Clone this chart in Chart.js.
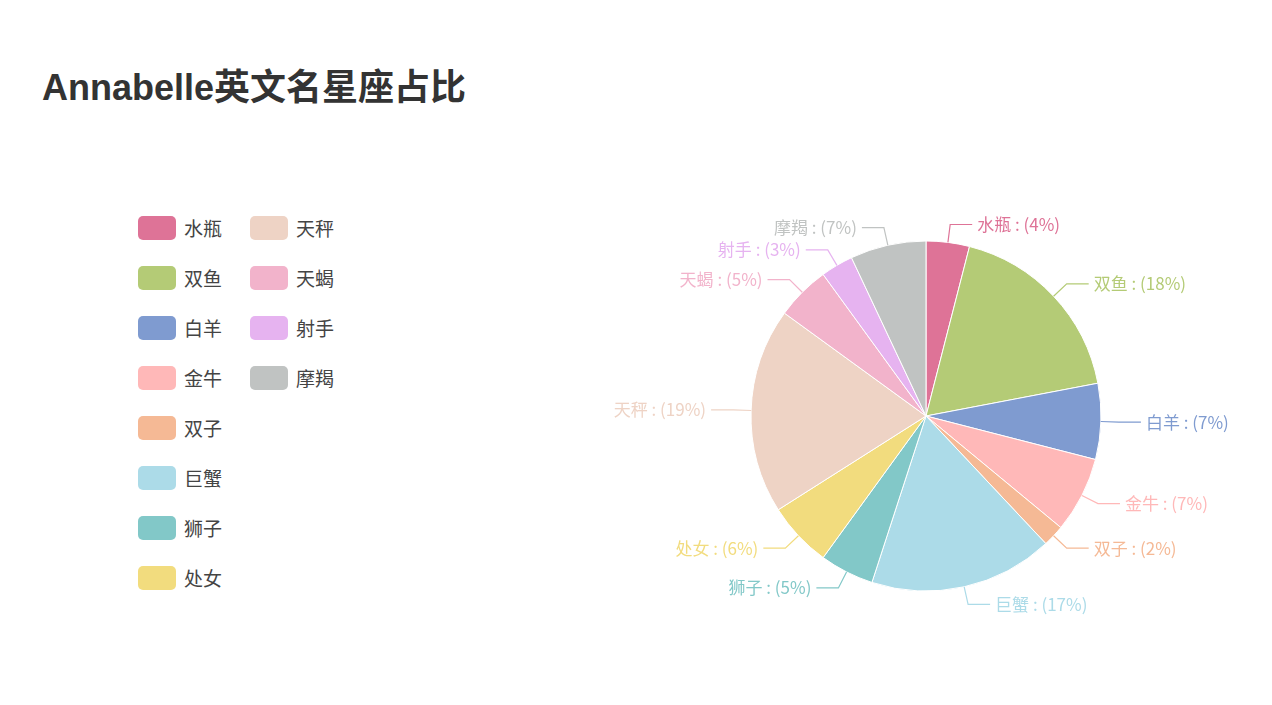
<!DOCTYPE html>
<html><head><meta charset="utf-8">
<script src="https://cdn.jsdelivr.net/npm/chart.js@4"></script>
<style>
body{margin:0;width:1272px;height:705px;background:#fff;font-family:"Noto Sans CJK SC","Noto Sans",sans-serif;position:relative;overflow:hidden}
h1{position:absolute;left:42px;top:58px;margin:0;font-size:36px;font-weight:bold;color:#333;font-family:"Liberation Sans","Noto Sans CJK SC",sans-serif}
#legend .it{position:absolute;display:flex;align-items:center;font-size:19px;color:#444}
#legend .sw{width:38px;height:24px;border-radius:5px;margin-right:8px}
#wrap{position:absolute;left:576px;top:166px;width:700px;height:500px}
</style></head><body>
<h1>Annabelle英文名星座占比</h1>
<div id="legend"></div>
<div id="wrap"><canvas id="c"></canvas></div>
<script>
const labels = ['水瓶','双鱼','白羊','金牛','双子','巨蟹','狮子','处女','天秤','天蝎','射手','摩羯'];
const values = [4,18,7,7,2,17,5,6,19,5,3,7];
const colors = ['#de7397','#b4cb76','#7f9bd0','#ffb8b8','#f5b995','#acdbe8','#82c8c8','#f2dc7e','#eed3c5','#f2b3cb','#e6b3f0','#c0c3c2'];

const lg = document.getElementById('legend');
labels.forEach((l, i) => {
  const col = i < 8 ? 0 : 1, row = i < 8 ? i : i - 8;
  const d = document.createElement('div');
  d.className = 'it';
  d.style.left = (138 + col * 112) + 'px';
  d.style.top = (214 + row * 50) + 'px';
  d.innerHTML = `<span class="sw" style="background:${colors[i]}"></span>${l}`;
  lg.appendChild(d);
});

const outLabels = {
  id: 'outLabels',
  afterDatasetsDraw(chart) {
    const ctx = chart.ctx;
    const meta = chart.getDatasetMeta(0);
    ctx.save();
    ctx.font = '17px "Noto Sans CJK SC", sans-serif';
    ctx.textBaseline = 'middle';
    meta.data.forEach((arc, i) => {
      const p = arc.getProps(['x','y','startAngle','endAngle','outerRadius'], true);
      const a = (p.startAngle + p.endAngle) / 2;
      const cos = Math.cos(a), sin = Math.sin(a);
      const r = p.outerRadius;
      const x0 = p.x + cos * r, y0 = p.y + sin * r;
      const x1 = p.x + cos * (r + 18), y1 = p.y + sin * (r + 18);
      const right = cos >= 0;
      const x2 = x1 + (right ? 22 : -22);
      ctx.strokeStyle = colors[i];
      ctx.lineWidth = 1.2;
      ctx.beginPath(); ctx.moveTo(x0, y0); ctx.lineTo(x1, y1); ctx.lineTo(x2, y1); ctx.stroke();
      ctx.fillStyle = colors[i];
      ctx.textAlign = right ? 'left' : 'right';
      ctx.fillText(labels[i] + ' : (' + values[i] + '%)', x2 + (right ? 5 : -5), y1);
    });
    ctx.restore();
  }
};

new Chart(document.getElementById('c'), {
  type: 'pie',
  data: { labels, datasets: [{ data: values, backgroundColor: colors, borderColor: '#fff', borderWidth: 1, radius: 175 }] },
  options: {
    responsive: true, maintainAspectRatio: false, animation: false,
    layout: { padding: 0 },
    plugins: { legend: { display: false }, tooltip: { enabled: false } }
  },
  plugins: [outLabels]
});
</script>
</body></html>
